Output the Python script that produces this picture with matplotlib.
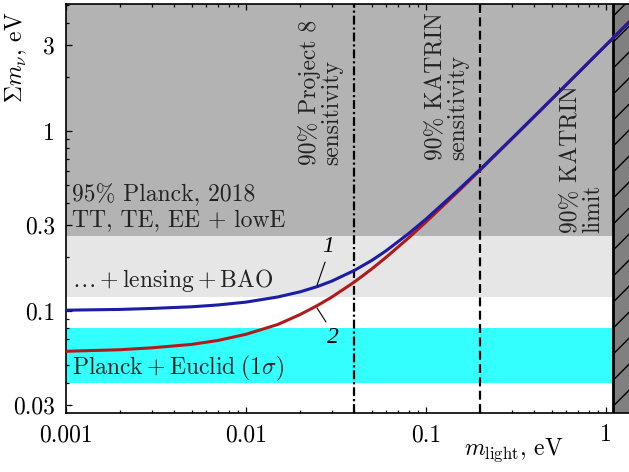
import numpy as np
import matplotlib
matplotlib.use("Agg")
import matplotlib.pyplot as plt
from matplotlib.ticker import FixedLocator, FixedFormatter, LogLocator, NullFormatter
import matplotlib.transforms as mtransforms

plt.rcParams['mathtext.fontset'] = 'cm'
plt.rcParams['font.family'] = ['cmr10', 'DejaVu Serif']
plt.rcParams['axes.formatter.use_mathtext'] = True

# ---- data ----
m_light = [0.001, 0.002, 0.003, 0.005, 0.007, 0.01, 0.015, 0.02, 0.025, 0.03,
           0.04, 0.05, 0.06, 0.08, 0.1, 0.15, 0.2, 0.3, 0.5, 0.7, 1.0, 1.4]
sum_normal = [0.0597, 0.0609, 0.0624, 0.0652, 0.0686, 0.0742, 0.0841, 0.0956, 0.1074, 0.1195,
              0.1449, 0.1713, 0.1987, 0.2546, 0.3122, 0.4589, 0.6064, 0.9043, 1.5025, 2.1018, 3.0012, 4.2009]
sum_inverted = [0.1010, 0.1020, 0.1033, 0.1055, 0.1080, 0.1120, 0.1196, 0.1278, 0.1368, 0.1466,
                0.1680, 0.1910, 0.2160, 0.2690, 0.3240, 0.4675, 0.6125, 0.9085, 1.5050, 2.1035, 3.0025, 4.2018]

planck_tt = 0.26          # 95% Planck 2018 TT,TE,EE+lowE
planck_lens_bao = 0.12    # + lensing + BAO
euclid_band = (0.04, 0.08)
project8 = 0.04
katrin_sens = 0.2
katrin_limit = 1.1

xticks = [0.001, 0.01, 0.1, 1]
xticklabels = ['0.001', '0.01', '0.1', '1']
yticks = [0.03, 0.1, 0.3, 1, 3]
yticklabels = ['0.03', '0.1', '0.3', '1', '3']

xlim = (0.001, 1.4)
ylim = (0.0271, 5.08)

# ---- figure ----
W, H = 629, 472
fig = plt.figure(figsize=(W / 100, H / 100), dpi=100)
ax_left, ax_bottom = 66 / W, (H - 413) / H
ax_h = 409 / H
ax_w = 180 * np.log10(xlim[1] / xlim[0]) / W
ax = fig.add_axes([ax_left, ax_bottom, ax_w, ax_h])
ax.set_xscale('log')
ax.set_yscale('log')
ax.set_xlim(*xlim)
ax.set_ylim(*ylim)

grey = '#b3b3b3'
lgrey = '#e6e6e6'
cyan = '#33ffff'
ax.axhspan(planck_tt, 100, color=grey, lw=0, zorder=0)
ax.axhspan(planck_lens_bao, planck_tt, color=lgrey, lw=0, zorder=0)
ax.axhspan(euclid_band[0], euclid_band[1], color=cyan, lw=0, zorder=0)
ax.axvspan(katrin_limit, 100, color='#808080', lw=0, zorder=1)

ax.axvline(project8, color='black', lw=1.6, ls=(0, (4, 1.3, 1, 1.3)), zorder=3)
ax.axvline(katrin_sens, color='black', lw=1.6, ls=(0, (4, 2)), zorder=3)
ax.axvline(katrin_limit, color='black', lw=2.0, zorder=4)

ax.plot(m_light, sum_normal, color='#b01a1a', lw=2.2, zorder=5, solid_capstyle='butt')
ax.plot(m_light, sum_inverted, color='#1c1ca4', lw=2.2, zorder=6, solid_capstyle='butt')

# ticks
ax.xaxis.set_major_locator(FixedLocator(xticks))
ax.xaxis.set_major_formatter(FixedFormatter(xticklabels))
ax.yaxis.set_major_locator(FixedLocator(yticks))
ax.yaxis.set_major_formatter(FixedFormatter(yticklabels))
ax.xaxis.set_minor_locator(LogLocator(base=10, subs=np.arange(2, 10)))
ax.xaxis.set_minor_formatter(NullFormatter())
ax.yaxis.set_minor_locator(FixedLocator([0.04, 0.05, 0.06, 0.07, 0.08, 0.09, 0.2, 0.4, 0.5, 0.6, 0.7, 0.8, 0.9, 2, 4, 5]))
ax.yaxis.set_minor_formatter(NullFormatter())
ax.tick_params(which='both', direction='in', top=True, right=False, labelsize=17, width=0.9)
ax.tick_params(which='major', length=4.5, pad=8)
ax.tick_params(which='minor', length=2.5)
for s in ['left', 'bottom', 'top']:
    ax.spines[s].set_linewidth(1.2)
ax.spines['right'].set_visible(False)

# axis labels
ax.set_ylabel(r'$\Sigma m_\nu$, eV', fontsize=17)
ax.yaxis.set_label_coords(-0.066, 0.87)
ax.set_xlabel(r'$m_\mathrm{light}$, eV', fontsize=17)
ax.xaxis.set_label_coords(0.79, -0.058)

fs = 17
tc = '#222222'
ax.text(0.011, 0.533, '95% Planck, 2018', transform=ax.transAxes, fontsize=fs, va='center', ha='left', color=tc, zorder=7)
ax.text(0.011, 0.472, 'TT, TE, EE + lowE', transform=ax.transAxes, fontsize=fs, va='center', ha='left', color=tc, zorder=7)
ax.text(0.011, 0.323, r'$\ldots+\mathrm{lensing}+\mathrm{BAO}$', transform=ax.transAxes, fontsize=fs, va='center', ha='left', color=tc, zorder=7)
ax.text(0.011, 0.108, r'$\mathrm{Planck}+\mathrm{Euclid}\;(1\sigma)$', transform=ax.transAxes, fontsize=fs, va='center', ha='left', color=tc, zorder=7)

blend = mtransforms.blended_transform_factory(ax.transData, ax.transAxes)
ax.text(0.0261, 0.606, '90% Project 8\nsensitivity', transform=blend, rotation=90, fontsize=fs,
        ha='center', va='bottom', multialignment='left', linespacing=1.0, color=tc, zorder=7)
ax.text(0.131, 0.619, '90% KATRIN\nsensitivity', transform=blend, rotation=90, fontsize=fs,
        ha='center', va='bottom', multialignment='left', linespacing=1.0, color=tc, zorder=7)
ax.text(0.736, 0.44, '90% KATRIN\nlimit', transform=blend, rotation=90, fontsize=fs,
        ha='center', va='bottom', multialignment='left', linespacing=1.0, color=tc, zorder=7)

# curve labels with leader lines
ax.text(0.0285, 0.227, '1', fontsize=17, family='Liberation Serif', style='italic', ha='center', va='center', zorder=7)
ax.text(0.0303, 0.0708, '2', fontsize=17, family='Liberation Serif', style='italic', ha='center', va='center', zorder=7)
ax.annotate('', xy=(0.0248, 0.139), xytext=(0.0275, 0.187),
            arrowprops=dict(arrowstyle='-', lw=0.8, color='black', shrinkA=0, shrinkB=0), zorder=7)
ax.annotate('', xy=(0.0248, 0.104), xytext=(0.0278, 0.0869),
            arrowprops=dict(arrowstyle='-', lw=0.8, color='black', shrinkA=0, shrinkB=0), zorder=7)

# hatch of the excluded region (drawn in a pixel-space overlay)
fig.canvas.draw()
x0 = ax.transData.transform((katrin_limit, ylim[0]))[0]
x1 = ax.transData.transform((xlim[1], ylim[0]))[0]
hax = fig.add_axes([x0 / W, ax_bottom, (x1 - x0) / W, ax_h])
hw, hh = x1 - x0, 409
hax.set_xlim(0, hw)
hax.set_ylim(0, hh)
hax.axis('off')
hax.patch.set_alpha(0)
for c in np.arange(-hw, hh + 26, 26):
    hax.plot([0, hw], [c, c + hw], color='black', lw=1.0, clip_on=True)

fig.savefig('out.png', dpi=100)
